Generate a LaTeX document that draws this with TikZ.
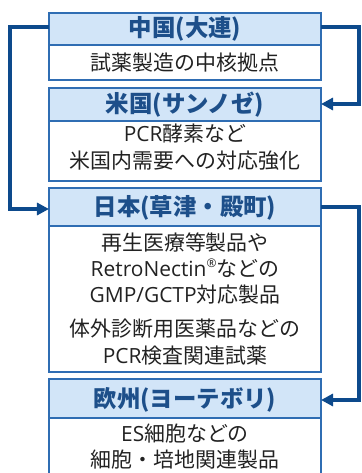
\documentclass[tikz,border=0pt]{standalone}
\usepackage{fontspec}
\setmainfont{Noto Sans CJK JP}
\newfontfamily\lat{Open Sans}
\usetikzlibrary{arrows.meta}
\definecolor{hdrfill}{HTML}{D2E5F8}
\definecolor{bordercol}{HTML}{2F6DB3}
\definecolor{conncol}{HTML}{0D4A8C}
\definecolor{hdrtext}{HTML}{1D4F8A}
\definecolor{bodytext}{HTML}{222222}
\tikzset{
  boxpart/.style={draw=bordercol, line width=2bp, rectangle, minimum width=272bp, inner sep=0pt, outer sep=0pt},
  hdr/.style={boxpart, fill=hdrfill},
  bodybox/.style={boxpart, fill=white},
  hdrlabel/.style={font=\fontsize{23.5}{27}\selectfont\bfseries, text=hdrtext, inner sep=0pt},
  bodylabel/.style={font=\fontsize{21}{26.5}\selectfont, text=bodytext, inner sep=0pt, align=center},
  conn/.style={draw=conncol, line width=4bp},
  arr/.style={conn, -{Triangle[length=12bp,width=12bp]}}
}
\begin{document}
\begin{tikzpicture}[x=1bp,y=-1bp]
\useasboundingbox (0,0) rectangle (361,473);
\clip (0,0) rectangle (361,473);
% box 1
\node[hdr, minimum height=32bp] (h1) at (185,29) {};
\node[bodybox, minimum height=35bp] (b1) at (185,62.5) {};
\node[hdrlabel] (t1) at (185,29) {中国(大連)};
\node[bodylabel] (s1) at (185,63) {試薬製造の中核拠点};
% box 2
\node[hdr, minimum height=33bp] (h2) at (185,104.5) {};
\node[bodybox, minimum height=60bp] (b2) at (185,151) {};
\node[hdrlabel] (t2) at (185,105) {米国(サンノゼ)};
\node[bodylabel] (s2) at (185,147) {{\lat PCR}酵素など\\米国内需要への対応強化};
% box 3
\node[hdr, minimum height=38bp] (h3) at (185,207) {};
\node[bodybox, minimum height=146bp] (b3) at (185,299) {};
\node[hdrlabel] (t3) at (185,207.5) {日本(草津・殿町)};
\node[bodylabel] (s3) at (185,268.5) {再生医療等製品や\\{\lat RetroNectin\raisebox{0.42em}{\fontsize{12}{12}\selectfont ®}}などの\\{\lat GMP/GCTP}対応製品};
\node[bodylabel] (s3b) at (185,342) {体外診断用医薬品などの\\{\lat PCR}検査関連試薬};
% box 4
\node[hdr, minimum height=39bp] (h4) at (185,398.5) {};
\node[bodybox, minimum height=80bp] (b4) at (185,458) {};
\node[hdrlabel] (t4) at (185,399.5) {欧州(ヨーテボリ)};
\node[bodylabel] (s4) at (185,446.5) {{\lat ES}細胞などの\\細胞・培地関連製品};
% connectors
\coordinate (lc1) at (10,27);
\coordinate (lc2) at (10,209);
\coordinate (rc1) at (358.5,27);
\coordinate (rc2) at (358.5,104);
\coordinate (rc3) at (358.5,207);
\coordinate (rc4) at (358.5,400);
\draw[arr] (h1.west |- lc1) -- (lc1) -- (lc2) -- (h3.west |- lc2);
\draw[arr] (h1.east |- rc1) -- (rc1) -- (rc2) -- (h2.east |- rc2);
\draw[arr] (h3.east |- rc3) -- (rc3) -- (rc4) -- (h4.east |- rc4);
\end{tikzpicture}
\end{document}
